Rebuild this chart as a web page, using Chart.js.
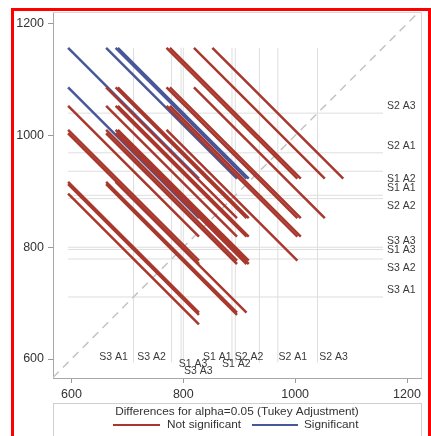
<!DOCTYPE html>
<html>
<head>
<meta charset="utf-8">
<script src="https://cdn.jsdelivr.net/npm/chart.js@4.4.1/dist/chart.umd.min.js"></script>
<style>
  html, body { margin: 0; padding: 0; background: #fff; overflow: hidden; }
  #wrap { position: relative; width: 431px; height: 436px; }
</style>
</head>
<body>
<div id="wrap"><canvas id="c" width="431" height="436"></canvas></div>
<script>
// LS-means of the nine treatment combinations
const groups  = ['S1 A1', 'S1 A2', 'S1 A3', 'S2 A1', 'S2 A2', 'S2 A3', 'S3 A1', 'S3 A2', 'S3 A3'];
const lsMeans = [893, 936, 796, 969, 887, 1040, 711, 779, 800];
// Tukey-adjusted 95% CI half width, common to every pairwise difference
const diffHalfWidth = 234;
const tickValues = [600, 800, 1000, 1200];
const xRange = [567, 1225];
const yRange = [566, 1221];

const legendTitle = 'Differences for alpha=0.05 (Tukey Adjustment)';
const legendNames = ['Not significant', 'Significant'];

const RED = '#a8372d', BLUE = '#47579a';
const FONT = '"Liberation Sans", Arial, sans-serif';

// where each group label sits next to its reference line
const bottomLabelLayout = {
  'S3 A1': { dx: -20, row: 0 }, 'S3 A2': { dx: -20, row: 0 },
  'S1 A3': { dx: 12, row: 1 },  'S3 A3': { dx: 15, row: 2 },
  'S1 A1': { dx: -18, row: 0 }, 'S1 A2': { dx: -23, row: 1 },
  'S2 A2': { dx: 17, row: 0 },  'S2 A1': { dx: 15, row: 0 },
  'S2 A3': { dx: 16, row: 0 }
};
const rightLabelLayout = {
  'S2 A3': -7, 'S2 A1': -7, 'S1 A2': 8, 'S1 A1': -7, 'S2 A2': 7,
  'S3 A3': -6, 'S1 A3': 1, 'S3 A2': 9, 'S3 A1': -7
};

// pairwise difference segments: centre (lower mean, higher mean), slope -1
const half = diffHalfWidth / 2;
const segments = [];
for (let i = 0; i < groups.length; i++) {
  for (let j = i + 1; j < groups.length; j++) {
    const lo = Math.min(lsMeans[i], lsMeans[j]);
    const hi = Math.max(lsMeans[i], lsMeans[j]);
    const sig = (hi - lo) > diffHalfWidth;
    segments.push({
      data: [{ x: lo - half, y: hi + half }, { x: lo + half, y: hi - half }],
      borderColor: sig ? BLUE : RED,
      borderWidth: 2.5,
      showLine: true, pointRadius: 0, order: 0
    });
  }
}

// reference lines at each mean, spanning the extent of the segments
const refLo = Math.min(...lsMeans) - half;
const refHi = Math.max(...lsMeans) + half;
const refLines = [];
lsMeans.forEach(m => {
  refLines.push({ data: [{ x: m, y: refLo }, { x: m, y: refHi }],
    borderColor: '#dedede', borderWidth: 1, showLine: true, pointRadius: 0, order: 10 });
  refLines.push({ data: [{ x: refLo, y: m }, { x: refHi, y: m }],
    borderColor: '#dedede', borderWidth: 1, showLine: true, pointRadius: 0, order: 10 });
});

const diagonal = {
  data: [{ x: Math.max(xRange[0], yRange[0]), y: Math.max(xRange[0], yRange[0]) },
         { x: Math.min(xRange[1], yRange[1]), y: Math.min(xRange[1], yRange[1]) }],
  borderColor: '#c4c4c4', borderWidth: 1.5, borderDash: [8, 6],
  showLine: true, pointRadius: 0, order: 5
};

const decorations = {
  id: 'decorations',
  afterDatasetsDraw(chart) {
    const { ctx, chartArea: a, scales: { x, y } } = chart;
    ctx.save();
    // light frame on top / right
    ctx.strokeStyle = '#d6d6d6';
    ctx.lineWidth = 1;
    ctx.beginPath();
    ctx.moveTo(a.left, a.top + 0.5); ctx.lineTo(a.right + 0.5, a.top + 0.5);
    ctx.lineTo(a.right + 0.5, a.bottom);
    ctx.stroke();

    // group labels
    ctx.font = '10.5px ' + FONT;
    ctx.fillStyle = '#3a3a3a';
    ctx.textBaseline = 'middle';
    const rowY = [a.bottom - 21, a.bottom - 14, a.bottom - 7];
    groups.forEach((g, k) => {
      const m = lsMeans[k];
      const b = bottomLabelLayout[g];
      ctx.textAlign = 'center';
      ctx.fillText(g, x.getPixelForValue(m) + b.dx, rowY[b.row]);
      ctx.textAlign = 'left';
      ctx.fillText(g, a.right - 34, y.getPixelForValue(m) + rightLabelLayout[g]);
    });
    ctx.restore();
  },
  afterDraw(chart) {
    const { ctx, chartArea: a } = chart;
    ctx.save();
    // legend box
    const top = 403.5;
    ctx.strokeStyle = '#cfcfcf';
    ctx.lineWidth = 1;
    ctx.strokeRect(a.left + 0.5, top, a.right - a.left, 40);
    const cx = (a.left + a.right) / 2;
    ctx.fillStyle = '#333';
    ctx.font = '11.8px ' + FONT;
    ctx.textBaseline = 'middle';
    ctx.textAlign = 'center';
    ctx.fillText(legendTitle, cx, top + 8);
    const ly = top + 21.5;
    ctx.textAlign = 'left';
    ctx.lineWidth = 2;
    ctx.strokeStyle = RED;
    ctx.beginPath(); ctx.moveTo(113, ly); ctx.lineTo(160, ly); ctx.stroke();
    ctx.fillText(legendNames[0], 167, ly);
    ctx.strokeStyle = BLUE;
    ctx.beginPath(); ctx.moveTo(252, ly); ctx.lineTo(298, ly); ctx.stroke();
    ctx.fillText(legendNames[1], 304, ly);

    // outer red frame
    ctx.strokeStyle = '#ff0000';
    ctx.lineWidth = 3;
    ctx.strokeRect(12.5, 9.5, 417, 440);
    ctx.restore();
  }
};

const axisCommon = (range, fitKey, fitVal) => ({
  type: 'linear',
  min: range[0], max: range[1],
  afterBuildTicks: s => { s.ticks = tickValues.map(v => ({ value: v })); },
  afterFit: s => { s[fitKey] = fitVal; },
  grid: { drawOnChartArea: false, tickLength: 5, color: '#9a9a9a' },
  border: { color: '#a8a8a8', width: 1 },
  ticks: {
    color: '#333', font: { family: FONT, size: 12.5 }, padding: 4,
    callback: v => String(v)
  }
});

new Chart(document.getElementById('c'), {
  type: 'scatter',
  data: { datasets: [...segments, diagonal, ...refLines] },
  options: {
    responsive: false,
    animation: false,
    events: [],
    layout: { padding: { left: 0, top: 12, right: 10, bottom: 33 } },
    plugins: { legend: { display: false }, tooltip: { enabled: false } },
    scales: {
      x: axisCommon(xRange, 'height', 25),
      y: axisCommon(yRange, 'width', 53)
    }
  },
  plugins: [decorations]
});
</script>
</body>
</html>
